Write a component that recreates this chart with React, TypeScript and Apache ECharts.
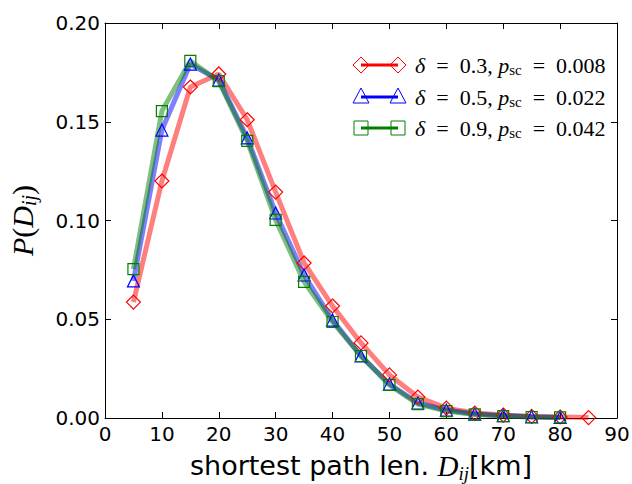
import React, { useEffect, useRef } from "react";
import * as echarts from "echarts";

const xValues = [5, 10, 15, 20, 25, 30, 35, 40, 45, 50, 55, 60, 65, 70, 75, 80, 85];
const redValues = [0.0587, 0.120, 0.1676, 0.1742, 0.151, 0.1144, 0.0785, 0.0567, 0.038, 0.0218, 0.0106, 0.005, 0.0025, 0.0015, 0.0008, 0.0005, 0.0002];
const blueValues = [0.0694, 0.1458, 0.1792, 0.1711, 0.1418, 0.1038, 0.0724, 0.0496, 0.0314, 0.0172, 0.0076, 0.004, 0.002, 0.0012, 0.0006, 0.0003];
const greenValues = [0.0754, 0.1554, 0.1808, 0.1706, 0.1403, 0.1003, 0.0689, 0.0486, 0.0314, 0.0167, 0.007, 0.0035, 0.0018, 0.001, 0.0005, 0.0003];
const legendDeltas = ["0.3", "0.5", "0.9"];
const legendPsc = ["0.008", "0.022", "0.042"];
const xTicks = [0, 10, 20, 30, 40, 50, 60, 70, 80, 90];
const yTicks = [0, 0.05, 0.1, 0.15, 0.2];

const SERIF = "'Liberation Serif', 'DejaVu Serif', serif";
const SANS = "'DejaVu Sans', sans-serif";
const SP = "\u2002";

export default function App() {
  const ref = useRef<HTMLDivElement>(null);
  useEffect(() => {
    if (!ref.current) return;
    const chart = echarts.init(ref.current, undefined, { renderer: "svg" });
    const mk = (vals: number[]) => vals.map((v, i) => [xValues[i], v]);
    const seriesDefs = [
      { vals: redValues, color: "#ff0000", line: "rgba(255,0,0,0.5)", symbol: "diamond", size: 14 },
      { vals: blueValues, color: "#0000ff", line: "rgba(0,0,255,0.5)", symbol: "triangle", size: 12 },
      { vals: greenValues, color: "#008000", line: "rgba(0,128,0,0.5)", symbol: "rect", size: 11 },
    ];
    const axisCommon = {
      axisLine: { show: true, onZero: false, lineStyle: { color: "#000", width: 1 } },
      axisTick: { show: true, inside: true, length: 6, lineStyle: { color: "#000", width: 1 } },
      splitLine: { show: false },
    };
    const legendGraphics: any[] = [];
    const rowsY = [65, 97, 128];
    seriesDefs.forEach((s, i) => {
      const y = rowsY[i];
      legendGraphics.push({
        type: "line",
        shape: { x1: 361, y1: y, x2: 398, y2: y },
        style: { stroke: s.color, lineWidth: 3 },
      });
      [361, 398].forEach((cx) => {
        if (s.symbol === "diamond") {
          legendGraphics.push({
            type: "polygon",
            shape: { points: [[cx, y - 8], [cx + 8, y], [cx, y + 8], [cx - 8, y]] },
            style: { fill: "none", stroke: s.color, lineWidth: 1 },
          });
        } else if (s.symbol === "triangle") {
          legendGraphics.push({
            type: "polygon",
            shape: { points: [[cx, y - 9], [cx + 8, y + 6], [cx - 8, y + 6]] },
            style: { fill: "none", stroke: s.color, lineWidth: 1 },
          });
        } else {
          legendGraphics.push({
            type: "rect",
            shape: { x: cx - 7, y: y - 7, width: 14, height: 14 },
            style: { fill: "none", stroke: s.color, lineWidth: 1 },
          });
        }
      });
      legendGraphics.push({
        type: "text",
        x: 415,
        y: y,
        style: {
          text: `{i|δ}${SP}=${SP}${legendDeltas[i]}, {i|p}{s|sc}${SP}=${SP}${legendPsc[i]}`,
          fill: "#000",
          fontSize: 22,
          fontFamily: SERIF,
          verticalAlign: "middle",
          rich: {
            i: { fontStyle: "italic", fontSize: 22, fontFamily: SERIF },
            s: { fontSize: 15, fontFamily: SERIF, padding: [10, 0, 0, 0] },
          },
        },
      });
    });

    chart.setOption({
      animation: false,
      backgroundColor: "#fff",
      grid: { left: 105, right: 15, top: 23, bottom: 66, show: false, containLabel: false, outerBoundsMode: "none" },
      xAxis: [
        {
          type: "value",
          min: xTicks[0],
          max: xTicks[xTicks.length - 1],
          interval: 10,
          position: "bottom",
          ...axisCommon,
          axisLabel: { fontSize: 20, color: "#000", fontFamily: SANS, margin: 6 },
          name: "{a|shortest path len. }{d|D}{s|ij}{a|[km]}",
          nameLocation: "middle",
          nameGap: 30,
          nameTextStyle: {
            color: "#000",
            rich: {
              a: { fontSize: 27, fontFamily: SANS, color: "#000" },
              d: { fontSize: 29, fontFamily: SERIF, fontStyle: "italic", color: "#000" },
              s: { fontSize: 19, fontFamily: SERIF, fontStyle: "italic", color: "#000", padding: [16, 0, 0, 0] },
            },
          },
        },
        {
          type: "value",
          min: xTicks[0],
          max: xTicks[xTicks.length - 1],
          interval: 10,
          position: "top",
          ...axisCommon,
          axisLabel: { show: false },
        },
      ],
      yAxis: [
        {
          type: "value",
          min: yTicks[0],
          max: yTicks[yTicks.length - 1],
          interval: 0.05,
          position: "left",
          ...axisCommon,
          axisLabel: {
            fontSize: 20,
            color: "#000",
            fontFamily: SANS,
            margin: 5,
            formatter: (v: number) => v.toFixed(2),
          },
          name: "{i|P}{r|(}{i|D}{s|ij}{r|)}",
          nameLocation: "middle",
          nameRotate: 90,
          nameGap: 66,
          nameTextStyle: {
            color: "#000",
            rich: {
              i: { fontSize: 30, fontFamily: SERIF, fontStyle: "italic", color: "#000" },
              r: { fontSize: 30, fontFamily: SERIF, color: "#000" },
              s: { fontSize: 20, fontFamily: SERIF, fontStyle: "italic", color: "#000", padding: [14, 0, 0, 0] },
            },
          },
        },
        {
          type: "value",
          min: yTicks[0],
          max: yTicks[yTicks.length - 1],
          interval: 0.05,
          position: "right",
          ...axisCommon,
          axisLabel: { show: false },
        },
      ],
      series: seriesDefs.map((s) => ({
        type: "line",
        xAxisIndex: 0,
        yAxisIndex: 0,
        color: s.color,
        data: mk(s.vals),
        symbol: s.symbol,
        symbolSize: s.size,
        showAllSymbol: true,
        lineStyle: { color: s.line, width: 5 },
        itemStyle: { color: "rgba(255,255,255,0)", borderColor: s.color, borderWidth: 1.2 },
        emphasis: { disabled: true },
      })),
      graphic: legendGraphics,
    });
    return () => chart.dispose();
  }, []);
  return <div ref={ref} style={{ width: 632, height: 484, position: "absolute", left: 0, top: 0 }} />;
}
